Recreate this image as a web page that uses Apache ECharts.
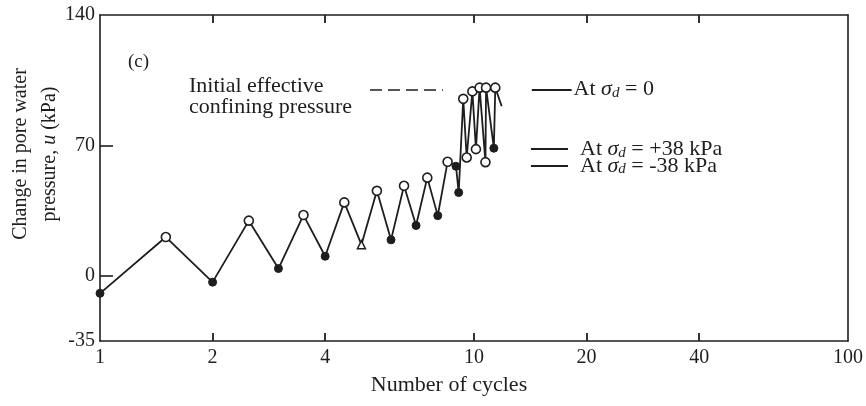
<!DOCTYPE html>
<html>
<head>
<meta charset="utf-8">
<script src="https://cdn.jsdelivr.net/npm/echarts@6/dist/echarts.min.js"></script>
<style>
  html, body { margin: 0; padding: 0; background: #fff; }
  #main { width: 866px; height: 406px; }
</style>
</head>
<body>
<div id="main"></div>
<script>
// readings at each half cycle (change in pore water pressure u, kPa)
var cycles = [1, 1.5, 2, 2.5, 3, 3.5, 4, 4.5, 5, 5.5, 6, 6.5, 7, 7.5, 8, 8.5,
  8.95, 9.1, 9.36, 9.56, 9.9, 10.12, 10.35, 10.73, 10.77, 11.3, 11.4, 11.86]
var pressure = [-9.4, 20.8, -3.4, 29.6, 3.9, 32.6, 10.5, 39.4, 16.7, 45.6, 19.3, 48.3, 27, 52.7, 32.3, 61.2,
  58.8, 44.7, 95, 63.5, 99, 68, 101, 61, 101, 68.5, 101, 91]
// marker drawn at each reading
var marker = ['filled', 'open', 'filled', 'open', 'filled', 'open', 'filled', 'open', 'tri', 'open', 'filled', 'open', 'filled', 'open', 'filled', 'open',
  'filled', 'filled', 'open', 'open', 'open', 'open', 'open', 'open', 'open', 'filled', 'open', 'none']

var xLabels = [1, 2, 4, 10, 20, 40, 100]
var xTicks = [2, 4, 10, 20, 40]
var yLabels = [-35, 0, 70, 140]
var yTicks = [0, 70]

// dashed "initial effective confining pressure" line
var confiningLine = [[5.27, 100], [8.26, 100]]
// short reference lines at right
var refLevels = [100, 68, 59]
var refText = ['= 0', '= +38 kPa', '= -38 kPa']
var refStart = [14.27, 14.2, 14.2]
var refEnd = [18.24, 17.84, 17.84]

var FONT = '"Liberation Serif", "DejaVu Serif", serif'
var INK = '#1e1e1e'

var chart = echarts.init(document.getElementById('main'))

var points = cycles.map(function (c, i) {
  var k = marker[i]
  var item = { value: [c, pressure[i]] }
  if (k === 'none') {
    item.symbol = 'none'
  } else if (k === 'filled') {
    item.symbol = 'circle'
    item.symbolSize = 8
    item.itemStyle = { color: INK, borderColor: INK, borderWidth: 1 }
  } else if (k === 'tri') {
    item.symbol = 'triangle'
    item.symbolSize = 8
    item.itemStyle = { color: '#fff', borderColor: INK, borderWidth: 1.5 }
  } else {
    item.symbol = 'circle'
    item.symbolSize = 9
    item.itemStyle = { color: '#fff', borderColor: INK, borderWidth: 1.6 }
  }
  return item
})

var sigmaRich = {
  t: { fontFamily: FONT, fontSize: 22, color: INK, lineHeight: 22 },
  s: { fontFamily: FONT, fontSize: 22, fontStyle: 'italic', color: INK, lineHeight: 22 },
  d: { fontFamily: FONT, fontSize: 15, fontStyle: 'italic', color: INK, lineHeight: 10, verticalAlign: 'bottom' }
}

var lines = [
  [{ coord: confiningLine[0], lineStyle: { type: [12, 6], width: 1.6, color: INK }, label: { show: false } },
    { coord: confiningLine[1] }]
]
refLevels.forEach(function (u, i) {
  lines.push([
    {
      coord: [refStart[i], u],
      lineStyle: { type: 'solid', width: 1.8, color: INK },
      label: {
        show: true,
        position: 'end',
        distance: i === 0 ? 2 : 12,
        formatter: '{t|At }{s|σ}{d|d}{t| ' + refText[i] + '}',
        rich: sigmaRich
      }
    },
    { coord: [refEnd[i], u] }
  ])
})

var option = {
  animation: false,
  backgroundColor: '#fff',
  grid: { left: 100, right: 18, top: 15, bottom: 65 },
  xAxis: [
    {
      type: 'log',
      logBase: 10,
      min: 1,
      max: 100,
      position: 'bottom',
      axisLine: { onZero: false, lineStyle: { color: INK, width: 1.6 } },
      axisTick: { show: true, inside: true, length: 8, customValues: xTicks, lineStyle: { color: INK, width: 1.8 } },
      minorTick: { show: false },
      splitLine: { show: false },
      axisLabel: { customValues: xLabels, margin: 7, color: INK, fontFamily: FONT, fontSize: 20 }
    },
    {
      type: 'log',
      logBase: 10,
      min: 1,
      max: 100,
      position: 'top',
      axisLine: { show: true, onZero: false, lineStyle: { color: INK, width: 1.6 } },
      axisTick: { show: true, inside: true, length: 8, customValues: xTicks, lineStyle: { color: INK, width: 1.8 } },
      minorTick: { show: false },
      splitLine: { show: false },
      axisLabel: { show: false }
    }
  ],
  yAxis: [
    {
      type: 'value',
      min: -35,
      max: 140,
      interval: 35,
      axisLine: { show: true, onZero: false, lineStyle: { color: INK, width: 1.6 } },
      axisTick: { show: true, inside: true, length: 13, customValues: yTicks, lineStyle: { color: INK, width: 1.6 } },
      splitLine: { show: false },
      axisLabel: { customValues: yLabels, margin: 5, color: INK, fontFamily: FONT, fontSize: 20 }
    },
    {
      type: 'value',
      min: -35,
      max: 140,
      position: 'right',
      axisLine: { show: true, onZero: false, lineStyle: { color: INK, width: 1.6 } },
      axisTick: { show: false },
      splitLine: { show: false },
      axisLabel: { show: false }
    }
  ],
  graphic: [
    {
      type: 'text',
      x: 35,
      y: 154,
      rotation: Math.PI / 2,
      style: {
        text: 'Change in pore water\npressure, {u|u} (kPa)',
        fontFamily: FONT,
        fontSize: 20,
        lineHeight: 29,
        fill: INK,
        align: 'center',
        verticalAlign: 'middle',
        rich: { u: { fontFamily: FONT, fontSize: 20, fontStyle: 'italic', fill: INK, lineHeight: 29 } }
      }
    },
    {
      type: 'text',
      x: 449,
      y: 385,
      style: { text: 'Number of cycles', fontFamily: FONT, fontSize: 22, fill: INK, align: 'center', verticalAlign: 'middle' }
    },
    {
      type: 'text',
      x: 128,
      y: 62,
      style: { text: '(c)', fontFamily: FONT, fontSize: 19, fill: INK, align: 'left', verticalAlign: 'middle' }
    },
    {
      type: 'text',
      x: 189,
      y: 97,
      style: {
        text: 'Initial effective\nconfining pressure',
        fontFamily: FONT,
        fontSize: 22,
        lineHeight: 21,
        fill: INK,
        align: 'left',
        verticalAlign: 'middle'
      }
    }
  ],
  series: [
    {
      type: 'line',
      data: points,
      lineStyle: { color: INK, width: 1.8 },
      itemStyle: { color: '#fff', borderColor: INK },
      showAllSymbol: true,
      z: 3,
      markLine: {
        silent: true,
        symbol: 'none',
        animation: false,
        data: lines
      }
    }
  ]
}

chart.setOption(option)
</script>
</body>
</html>
